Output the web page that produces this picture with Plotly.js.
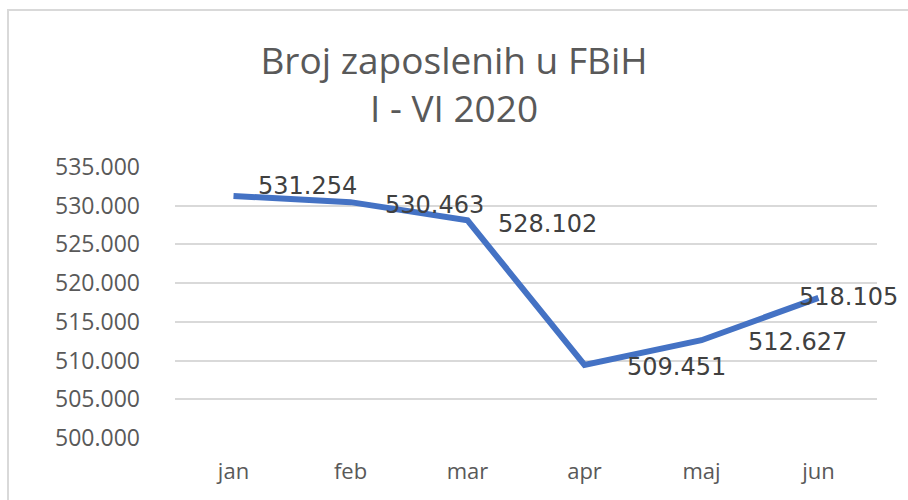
<!DOCTYPE html>
<html><head><meta charset="utf-8">
<script src="https://cdn.plot.ly/plotly-3.0.1.min.js"></script>
<style>
html,body{margin:0;padding:0;background:#fff;overflow:hidden}
#chart{width:908px;height:500px}
#frame{position:absolute;left:7px;top:9px;width:930px;height:520px;border:2px solid #d9d9d9;pointer-events:none}
</style></head>
<body>
<div id="chart"></div>
<div id="frame"></div>
<script>
const months = ["jan","feb","mar","apr","maj","jun"];
const employed = [531254, 530463, 528102, 509451, 512627, 518105];
const labelText = ["531.254","530.463","528.102","509.451","512.627","518.105"];
const labelDx = [22, 32, 28, 40, 44, -22];
const labelDy = [10, -3, -4, -2, -2, 1];
const yTicks = [500000,505000,510000,515000,520000,525000,530000,535000];
const yTickText = ["500.000","505.000","510.000","515.000","520.000","525.000","530.000","535.000"];

const trace = {
  x: months, y: employed, type: 'scatter', mode: 'lines',
  line: {color: '#4472C4', width: 6}, hoverinfo: 'skip'
};
const annotations = months.map((m,i)=>({
  x: m, y: employed[i], xref:'x', yref:'y', text: labelText[i], showarrow:false,
  xanchor:'left', yanchor:'middle', xshift: labelDx[i], yshift: labelDy[i],
  font:{family:'DejaVu Sans, sans-serif', size:24, color:'#404040'}
}));
const layout = {
  width: 908, height: 500,
  margin: {l:175, r:31, t:167, b:62},
  paper_bgcolor:'#fff', plot_bgcolor:'#fff',
  showlegend:false,
  title: {text: 'Broj zaposlenih u FBiH<br>I - VI 2020', x:0.5, xref:'container', xanchor:'center',
    yref:'container', y:0.853, yanchor:'top',
    font:{family:'Open Sans, sans-serif', size:37, color:'#595959'}},
  xaxis: {type:'category', range:[-0.5,5.5], showgrid:false, zeroline:false, showline:false, ticks:'',
    tickfont:{family:'Open Sans, sans-serif', size:22, color:'#595959'}, ticklabelstandoff:18, fixedrange:true},
  yaxis: {range:[500000,535000], tickvals:yTicks, ticktext:yTickText, showgrid:true,
    gridcolor:'#d9d9d9', gridwidth:2, zeroline:false, showline:false, ticks:'',
    tickfont:{family:'Open Sans, sans-serif', size:23, color:'#595959'}, ticklabelstandoff:34, fixedrange:true},
  annotations: annotations
};
Plotly.newPlot('chart', [trace], layout, {displayModeBar:false, staticPlot:true});
</script>
</body></html>
